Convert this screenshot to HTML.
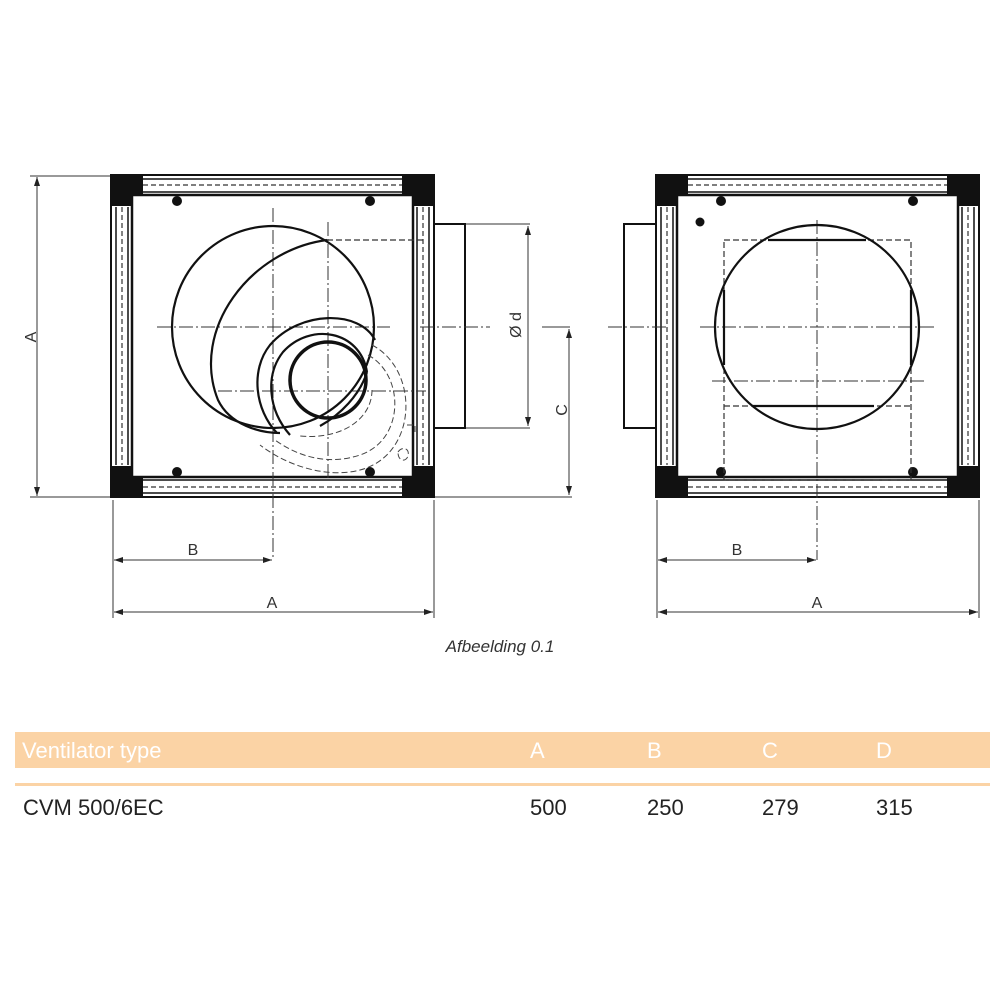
<!DOCTYPE html>
<html><head><style>
html,body{margin:0;padding:0;background:#fff;}
svg{display:block}
</style></head><body>
<svg width="1000" height="1000" viewBox="0 0 1000 1000" xmlns="http://www.w3.org/2000/svg" font-family="Liberation Sans, sans-serif">
<defs>
<marker id="ar" markerWidth="10" markerHeight="10" refX="9" refY="5" orient="auto-start-reverse" markerUnits="userSpaceOnUse"><path d="M0,2 L9,5 L0,8 Z" fill="#222"/></marker>
<g id="box">
  <rect x="0" y="0" width="323" height="322" fill="none" stroke="#111" stroke-width="2"/>
  <rect x="21" y="20" width="281" height="282" fill="none" stroke="#111" stroke-width="2.5"/>
  <!-- top rail -->
  <line x1="32" y1="4" x2="291" y2="4" stroke="#111" stroke-width="1.5"/>
  <line x1="32" y1="10" x2="291" y2="10" stroke="#333" stroke-width="1.2" stroke-dasharray="5,3"/>
  <line x1="32" y1="17" x2="291" y2="17" stroke="#111" stroke-width="1.5"/>
  <line x1="32" y1="305" x2="291" y2="305" stroke="#111" stroke-width="1.5"/>
  <line x1="32" y1="312" x2="291" y2="312" stroke="#333" stroke-width="1.2" stroke-dasharray="5,3"/>
  <line x1="32" y1="318" x2="291" y2="318" stroke="#111" stroke-width="1.5"/>
  <line x1="5" y1="32" x2="5" y2="290" stroke="#111" stroke-width="1.5"/>
  <line x1="11" y1="32" x2="11" y2="290" stroke="#333" stroke-width="1.2" stroke-dasharray="5,3"/>
  <line x1="17" y1="32" x2="17" y2="290" stroke="#111" stroke-width="1.5"/>
  <line x1="306" y1="32" x2="306" y2="290" stroke="#111" stroke-width="1.5"/>
  <line x1="312" y1="32" x2="312" y2="290" stroke="#333" stroke-width="1.2" stroke-dasharray="5,3"/>
  <line x1="318" y1="32" x2="318" y2="290" stroke="#111" stroke-width="1.5"/>
  <!-- corners -->
  <path d="M0,0 H32 V20 H21 V31 H0 Z" fill="#111"/>
  <path d="M323,0 H291 V20 H302 V31 H323 Z" fill="#111"/>
  <path d="M0,322 H32 V302 H21 V291 H0 Z" fill="#111"/>
  <path d="M323,322 H291 V302 H302 V291 H323 Z" fill="#111"/>
</g>
</defs>

<!-- LEFT VIEW -->
<g transform="translate(111,175)"><use href="#box"/></g>
<g fill="#111"><circle cx="177" cy="201" r="5"/><circle cx="370" cy="201" r="5"/><circle cx="177" cy="472" r="5"/><circle cx="370" cy="472" r="5"/></g>
<rect x="434" y="224" width="31" height="204" fill="none" stroke="#111" stroke-width="2"/>
<g stroke="#333" stroke-width="1" stroke-dasharray="14,3,2,3" fill="none">
  <line x1="273" y1="208" x2="273" y2="560"/>
  <line x1="328" y1="222" x2="328" y2="480"/>
  <line x1="157" y1="327" x2="390" y2="327"/>
  <line x1="420" y1="327" x2="490" y2="327"/>
  <line x1="218" y1="391" x2="426" y2="391"/>
</g>
<line x1="327" y1="240" x2="423" y2="240" stroke="#333" stroke-width="1.2" stroke-dasharray="6,3"/>
<g fill="none" stroke="#111" stroke-width="2.2">
  <circle cx="273" cy="327" r="101"/>
  <path d="M327,240 C250,250 190,330 218,400 C230,425 260,433 280,433"/>
  <path d="M277,433 C255,410 250,370 270,345 C300,310 360,310 375,340"/>
  <path d="M290,435 C268,410 265,375 283,352 C310,322 360,330 367,372"/>
  <circle cx="328" cy="380" r="38" stroke-width="3.5"/>
  <path d="M367,372 C360,395 340,415 320,426"/>
</g>
<g fill="none" stroke="#444" stroke-width="1" stroke-dasharray="6,3">
  <path d="M368,355 C405,375 405,440 360,455 C330,465 300,458 275,440"/>
  <path d="M372,345 C420,370 418,455 360,470 C330,478 290,468 260,445"/>
  <path d="M372,390 C372,420 340,440 300,436"/>
  <path d="M407,425 h8 v10"/>
  <path d="M398,452 c4,-6 12,-4 10,4 c-2,6 -10,6 -10,-4"/>
</g>

<!-- dims left -->
<g stroke="#333" stroke-width="1" fill="none">
  <line x1="30" y1="176" x2="110" y2="176"/>
  <line x1="30" y1="497" x2="110" y2="497"/>
  <line x1="37" y1="177" x2="37" y2="496" marker-start="url(#ar)" marker-end="url(#ar)"/>
  <line x1="113" y1="500" x2="113" y2="618"/>
  <line x1="434" y1="500" x2="434" y2="618"/>
  <line x1="114" y1="560" x2="272" y2="560" marker-start="url(#ar)" marker-end="url(#ar)"/>
  <line x1="114" y1="612" x2="433" y2="612" marker-start="url(#ar)" marker-end="url(#ar)"/>
  <line x1="466" y1="224" x2="530" y2="224"/>
  <line x1="466" y1="428" x2="530" y2="428"/>
  <line x1="528" y1="226" x2="528" y2="426" marker-start="url(#ar)" marker-end="url(#ar)"/>
  <line x1="542" y1="327" x2="570" y2="327"/>
  <line x1="435" y1="497" x2="572" y2="497"/>
  <line x1="569" y1="329" x2="569" y2="495" marker-start="url(#ar)" marker-end="url(#ar)"/>
</g>
<g fill="#333" font-size="16">
  <text x="36" y="337" transform="rotate(-90 36 337)" text-anchor="middle">A</text>
  <text x="193" y="555" text-anchor="middle">B</text>
  <text x="272" y="608" text-anchor="middle">A</text>
  <text x="521" y="325" transform="rotate(-90 521 325)" text-anchor="middle">Ø d</text>
  <text x="567" y="410" transform="rotate(-90 567 410)" text-anchor="middle">C</text>
</g>

<!-- RIGHT VIEW -->
<g transform="translate(656,175)"><use href="#box"/></g>
<g fill="#111"><circle cx="721" cy="201" r="5"/><circle cx="913" cy="201" r="5"/><circle cx="721" cy="472" r="5"/><circle cx="913" cy="472" r="5"/><circle cx="700" cy="222" r="4.5"/></g>
<rect x="624" y="224" width="32" height="204" fill="none" stroke="#111" stroke-width="2"/>
<g stroke="#333" stroke-width="1.2" stroke-dasharray="6,3" fill="none">
  <rect x="724" y="240" width="187" height="240"/>
  <line x1="724" y1="406" x2="911" y2="406"/>
</g>
<g stroke="#333" stroke-width="1" stroke-dasharray="14,3,2,3" fill="none">
  <line x1="817" y1="220" x2="817" y2="560"/>
  <line x1="700" y1="327" x2="935" y2="327"/>
  <line x1="712" y1="381" x2="924" y2="381"/>
  <line x1="608" y1="327" x2="668" y2="327"/>
</g>
<g fill="none" stroke="#111" stroke-width="2.2">
  <circle cx="817" cy="327" r="102"/>
  <line x1="768" y1="240" x2="866" y2="240"/>
  <line x1="752" y1="406" x2="874" y2="406"/>
  <line x1="724" y1="290" x2="724" y2="365"/>
  <line x1="911" y1="290" x2="911" y2="365"/>
</g>
<g stroke="#333" stroke-width="1" fill="none">
  <line x1="657" y1="500" x2="657" y2="618"/>
  <line x1="979" y1="500" x2="979" y2="618"/>
  <line x1="658" y1="560" x2="816" y2="560" marker-start="url(#ar)" marker-end="url(#ar)"/>
  <line x1="658" y1="612" x2="978" y2="612" marker-start="url(#ar)" marker-end="url(#ar)"/>
</g>
<g fill="#333" font-size="16">
  <text x="737" y="555" text-anchor="middle">B</text>
  <text x="817" y="608" text-anchor="middle">A</text>
</g>

<text x="500" y="652" text-anchor="middle" font-size="17" font-style="italic" fill="#333">Afbeelding 0.1</text>

<!-- table -->
<rect x="15" y="732" width="975" height="36" fill="#fbd3a5"/>
<rect x="15" y="783" width="975" height="3" fill="#fbd3a5"/>
<g font-size="22" fill="#fff">
  <text x="22" y="758">Ventilator type</text>
  <text x="530" y="758">A</text>
  <text x="647" y="758">B</text>
  <text x="762" y="758">C</text>
  <text x="876" y="758">D</text>
</g>
<g font-size="22" fill="#222">
  <text x="23" y="815">CVM 500/6EC</text>
  <text x="530" y="815">500</text>
  <text x="647" y="815">250</text>
  <text x="762" y="815">279</text>
  <text x="876" y="815">315</text>
</g>
</svg>
</body></html>
